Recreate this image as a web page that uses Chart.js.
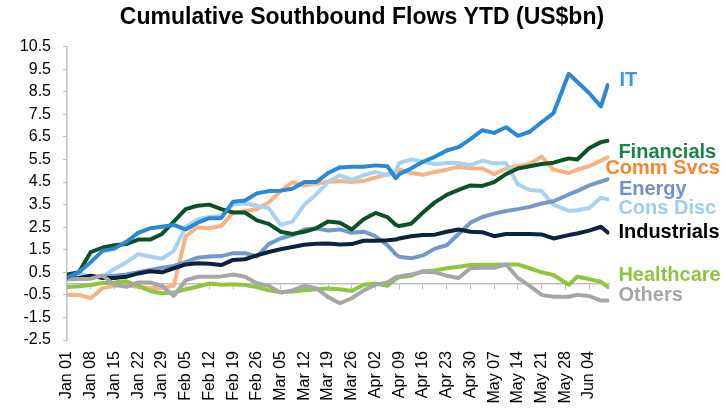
<!DOCTYPE html>
<html><head><meta charset="utf-8">
<script src="https://cdn.jsdelivr.net/npm/chart.js@4"></script>
<style>html,body{margin:0;padding:0;background:#fff}#wrap{width:724px;height:409px}</style>
</head><body><div id="wrap"><canvas id="c" width="724" height="409"></canvas></div>
<script>
// ---- data ----
const days = [0,3.5,7,10.5,14,17.5,21,24.5,28,31.5,35,38.5,42,45.5,49,52.5,56,59.5,63,66.5,70,73.5,77,80.5,84,87.5,91,94.5,97,98,101.5,105,108.5,112,115.5,119,122.5,126,129.5,133,136.5,140,143.5,148,150.5,154,157.5,159.5];
const weekDays = [0,7,14,21,28,35,42,49,56,63,70,77,84,91,98,105,112,119,126,133,140,147,154];
const tickLabels = ['Jan 01','Jan 08','Jan 15','Jan 22','Jan 29','Feb 05','Feb 12','Feb 19','Feb 26','Mar 05','Mar 12','Mar 19','Mar 26','Apr 02','Apr 09','Apr 16','Apr 23','Apr 30','May 07','May 14','May 21','May 28','Jun 04'];
const yTicks = [-2.5,-1.5,-0.5,0.5,1.5,2.5,3.5,4.5,5.5,6.5,7.5,8.5,9.5,10.5];
const seriesNames = ['IT','Financials','Comm Svcs','Energy','Cons Disc','Industrials','Healthcare','Others'];

const itFlows = [0.25,0.5,0.95,1.45,1.55,1.85,2.25,2.45,2.52,2.6,2.4,2.7,2.9,2.9,3.63,3.68,4.0,4.1,4.12,4.2,4.5,4.5,4.9,5.15,5.18,5.18,5.24,5.2,4.67,4.85,5.1,5.4,5.62,5.9,6.05,6.4,6.8,6.68,6.93,6.55,6.73,7.15,7.55,9.3,8.95,8.45,7.85,8.8];
const financials = [0.4,0.5,1.4,1.6,1.7,1.75,1.95,1.95,2.2,2.75,3.3,3.45,3.5,3.3,3.15,3.15,2.8,2.65,2.3,2.2,2.3,2.45,2.75,2.7,2.4,2.85,3.13,2.95,2.6,2.55,2.65,3.15,3.6,3.93,4.15,4.35,4.33,4.5,4.85,5.1,5.2,5.3,5.36,5.55,5.5,6.0,6.27,6.33];
const commSvcs = [-0.5,-0.5,-0.65,-0.2,-0.1,-0.06,-0.15,-0.2,-0.2,-0.1,2.1,2.5,2.45,2.55,3.15,3.22,3.3,3.6,4.1,4.5,4.35,4.45,4.5,4.55,4.5,4.55,4.7,4.85,4.95,5.05,4.9,4.82,4.95,5.05,5.18,5.11,5.1,4.85,5.1,5.2,5.3,5.63,5.05,4.9,5.05,5.2,5.45,5.6];
const energy = [0.2,0.22,0.3,0.3,0.35,0.4,0.5,0.6,0.7,0.78,0.95,1.15,1.2,1.22,1.35,1.35,1.2,1.75,2.0,2.15,2.4,2.45,2.35,2.4,2.25,2.3,2.1,1.7,1.3,1.19,1.12,1.25,1.55,1.7,2.2,2.7,2.95,3.1,3.22,3.3,3.4,3.55,3.65,3.95,4.1,4.35,4.52,4.62];
const consDisc = [0.25,0.45,0.3,0.3,0.65,0.95,1.3,1.2,1.1,1.45,2.5,2.85,2.95,3.0,3.5,3.55,3.45,3.35,2.6,2.75,3.5,3.95,4.5,4.8,4.6,4.8,4.95,4.8,5.0,5.35,5.5,5.4,5.3,5.35,5.35,5.25,5.45,5.33,5.33,4.4,4.15,4.1,3.5,3.22,3.25,3.35,3.8,3.74];
const industrials = [0.23,0.25,0.35,0.25,0.25,0.3,0.45,0.55,0.5,0.68,0.85,0.9,0.88,0.82,1.05,1.08,1.25,1.4,1.52,1.62,1.72,1.77,1.78,1.73,1.75,1.9,1.9,1.92,1.95,2.0,2.1,2.15,2.17,2.3,2.4,2.3,2.28,2.1,2.2,2.2,2.2,2.18,2.0,2.15,2.22,2.35,2.52,2.26];
const healthcare = [-0.15,-0.12,-0.06,0.03,0.05,0.1,-0.1,-0.33,-0.43,-0.4,-0.25,-0.14,0.0,-0.05,-0.03,-0.06,-0.15,-0.3,-0.38,-0.35,-0.3,-0.25,-0.22,-0.25,-0.33,-0.05,0.0,-0.1,0.2,0.28,0.35,0.55,0.58,0.68,0.75,0.82,0.83,0.83,0.85,0.85,0.68,0.5,0.38,-0.05,0.3,0.2,0.08,-0.15];
const others = [0.19,0.2,0.22,0.36,-0.05,-0.14,0.05,0.05,-0.1,-0.55,0.15,0.3,0.3,0.32,0.4,0.3,0.02,-0.1,-0.4,-0.3,-0.1,-0.2,-0.6,-0.87,-0.65,-0.3,-0.05,0.05,0.28,0.32,0.4,0.53,0.5,0.35,0.25,0.68,0.7,0.7,0.85,0.25,-0.1,-0.5,-0.58,-0.58,-0.5,-0.55,-0.75,-0.75];

// ---- styling (kept separate from data) ----
const seriesValues = [itFlows, financials, commSvcs, energy, consDisc, industrials, healthcare, others];
const lineColors = ['#2a88d7','#0c5228','#f9b282','#7399c8','#a8d2f2','#0b2341','#8dc63f','#a6a6a6'];
const textColors = ['#3399ee','#1a8346','#f5852f','#7192c6','#9fcdf0','#000000','#8dc63f','#a6a6a6'];
const drawOrder = [0,4,7,5,6,3,2,1];
const labelAt = [9.02,5.80,5.11,4.15,3.31,2.27,0.35,-0.51];
const labelDx = [10,9,-4,9.5,9,9,9,9];
const FONT = '"Liberation Sans", Arial, sans-serif';

const endLabels = {
  id: 'endLabels',
  afterDatasetsDraw(chart) {
    const {ctx, chartArea, scales} = chart;
    ctx.save();
    ctx.font = 'bold 20px ' + FONT;
    ctx.textBaseline = 'middle';
    ctx.textAlign = 'left';
    seriesNames.forEach((n, i) => {
      ctx.fillStyle = textColors[i];
      ctx.fillText(n, chartArea.right + labelDx[i], scales.y.getPixelForValue(labelAt[i]));
    });
    ctx.restore();
  }
};

const weekTicks = s => { s.ticks = weekDays.map(v => ({value: v})); };

new Chart(document.getElementById('c'), {
  type: 'line',
  data: {
    datasets: seriesNames.map((n, i) => ({
      label: n,
      data: days.map((d, j) => ({x: d, y: seriesValues[i][j]})),
      borderColor: lineColors[i],
      backgroundColor: lineColors[i],
      borderWidth: 4,
      pointRadius: 0,
      tension: 0,
      borderJoinStyle: 'round',
      borderCapStyle: 'round',
      order: drawOrder[i],
      fill: false
    }))
  },
  options: {
    responsive: false,
    animation: false,
    devicePixelRatio: 1,
    layout: {padding: {left: 0, right: 0, top: 0, bottom: 0}},
    plugins: {
      legend: {display: false},
      tooltip: {enabled: false},
      title: {
        display: true,
        text: 'Cumulative Southbound Flows YTD (US$bn)',
        color: '#000',
        font: {family: FONT, size: 23, weight: 'bold'},
        padding: {top: 4, bottom: 15.1}
      }
    },
    scales: {
      x: {
        type: 'linear', min: 0, max: 160,
        afterBuildTicks: weekTicks,
        afterFit: s => { s.height = 69; },
        grid: {display: false, drawTicks: false},
        border: {display: false},
        ticks: {
          autoSkip: false, minRotation: 90, maxRotation: 90, padding: 11,
          color: '#000', font: {family: FONT, size: 16},
          callback: (v, i) => tickLabels[i]
        }
      },
      x2: {
        type: 'linear', min: 0, max: 160,
        position: {y: 0},
        afterBuildTicks: weekTicks,
        grid: {drawOnChartArea: false, drawTicks: true, tickLength: 5, color: '#bfbfbf', lineWidth: 1},
        border: {display: true, color: '#bfbfbf', width: 1.5},
        ticks: {display: false}
      },
      y: {
        type: 'linear', min: -2.5, max: 10.5,
        afterBuildTicks: s => { s.ticks = yTicks.map(v => ({value: v})); },
        afterFit: s => { s.width = 67; },
        grid: {drawOnChartArea: false, drawTicks: true, tickLength: 4, color: '#bfbfbf'},
        border: {display: true, color: '#bfbfbf', width: 1.5},
        ticks: {
          padding: 12, color: '#000', font: {family: FONT, size: 16},
          callback: v => Number(v).toFixed(1)
        }
      },
      yRightSpace: {
        type: 'linear', position: 'right', min: -2.5, max: 10.5,
        afterFit: s => { s.width = 114.6; },
        grid: {display: false, drawTicks: false},
        border: {display: false},
        ticks: {display: false}
      }
    }
  },
  plugins: [endLabels]
});
</script>
</body></html>
